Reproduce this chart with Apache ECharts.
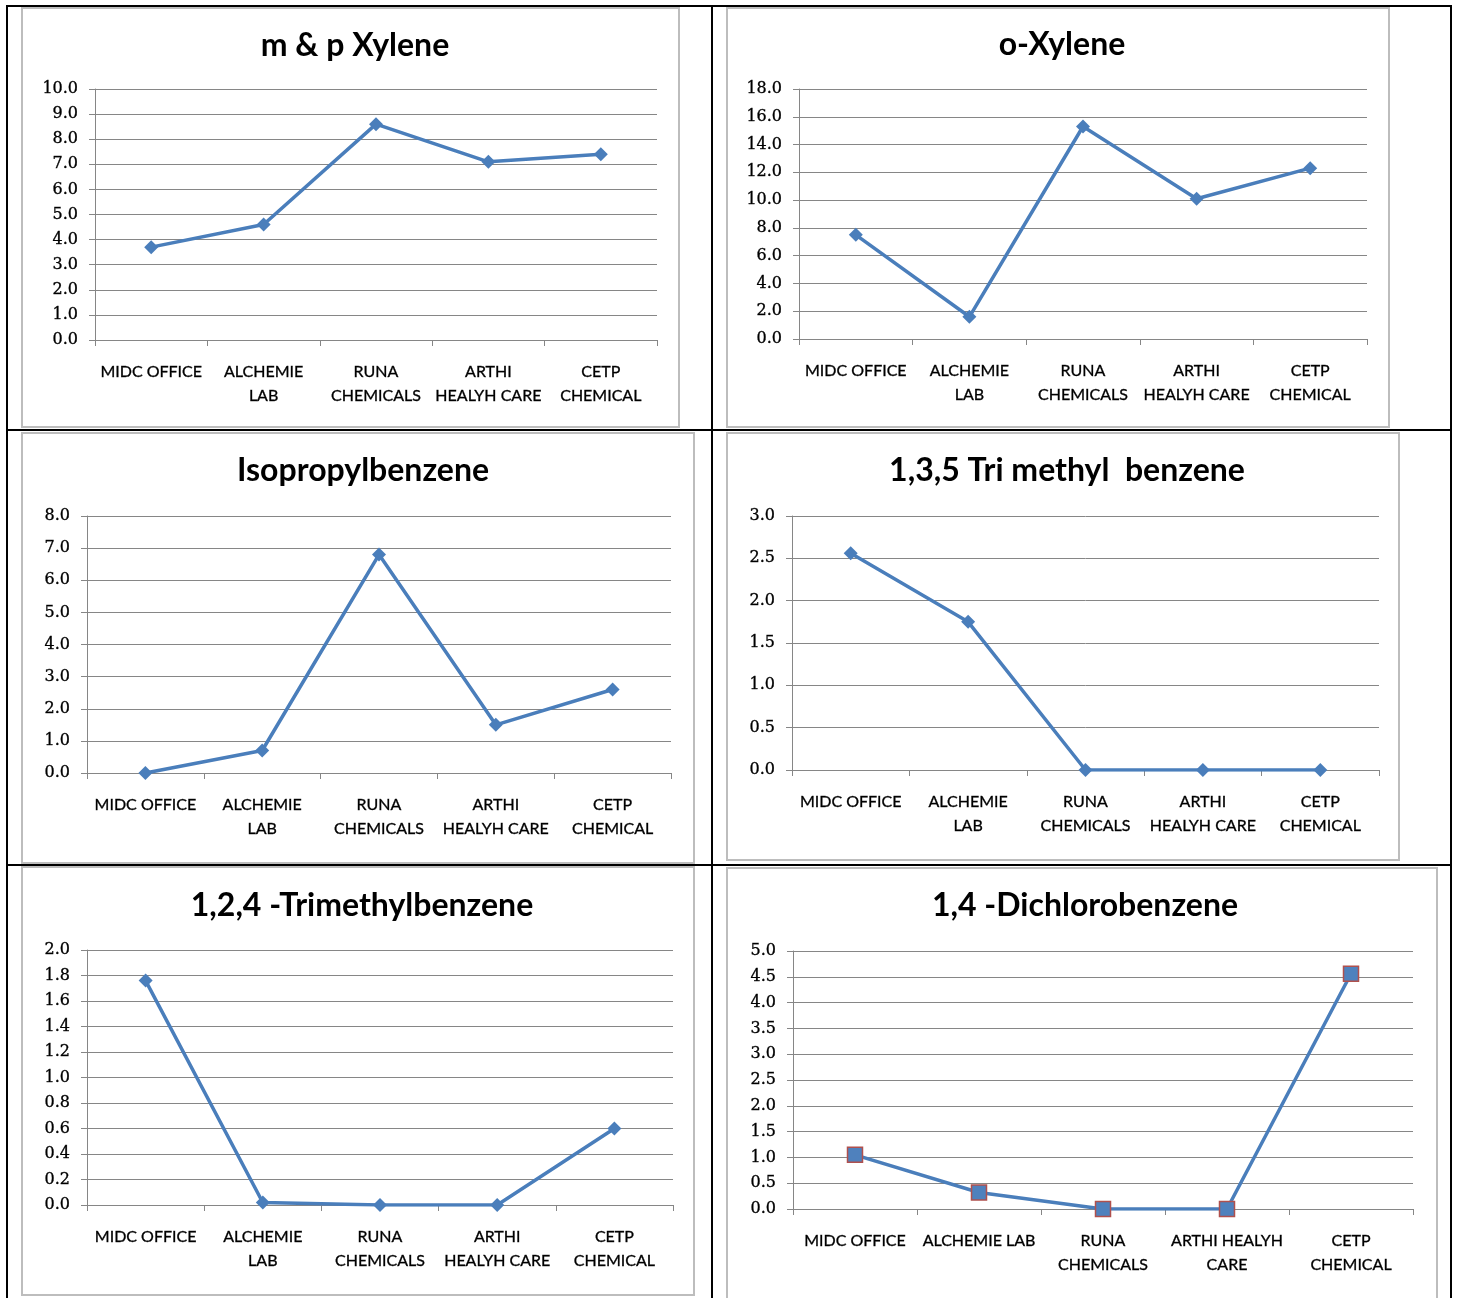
<!DOCTYPE html>
<html>
<head>
<meta charset="utf-8">
<script src="https://cdn.jsdelivr.net/npm/echarts@6/dist/echarts.min.js"></script>
<style>
  html, body { margin: 0; padding: 0; background: #ffffff; }
  #chart { width: 1459px; height: 1298px; }
</style>
</head>
<body>
<div id="chart"></div>
<script>
// Monitoring sites (two label wrappings are used across the panels)
const sites = ['MIDC OFFICE', 'ALCHEMIE\nLAB', 'RUNA\nCHEMICALS', 'ARTHI\nHEALYH CARE', 'CETP\nCHEMICAL'];
const sitesDichloro = ['MIDC OFFICE', 'ALCHEMIE LAB', 'RUNA\nCHEMICALS', 'ARTHI HEALYH\nCARE', 'CETP\nCHEMICAL'];

// Measured concentrations per compound
const mpXylene = [3.7, 4.6, 8.6, 7.1, 7.4];
const oXylene = [7.5, 1.6, 15.3, 10.1, 12.3];
const isopropylbenzene = [0.0, 0.7, 6.8, 1.5, 2.6];
const trimethyl135 = [2.56, 1.75, 0.0, 0.0, 0.0];
const trimethyl124 = [1.76, 0.02, 0.0, 0.0, 0.6];
const dichlorobenzene = [1.05, 0.32, 0.0, 0.0, 4.56];

// Panel titles and value-axis ranges
const panelTitles = ['m & p Xylene', 'o-Xylene', 'Isopropylbenzene', '1,3,5 Tri methyl  benzene', '1,2,4 -Trimethylbenzene', '1,4 -Dichlorobenzene'];
const axisMax = [10, 18, 8, 3, 2, 5];
const axisStep = [1, 2, 1, 0.5, 0.2, 0.5];

const panelData = [mpXylene, oXylene, isopropylbenzene, trimethyl135, trimethyl124, dichlorobenzene];
const panelCats = [sites, sites, sites, sites, sites, sitesDichloro];

// Layout of each panel: plot grid, title centre, and frame box
const layout = [
  { grid: [95, 89, 562, 251],  title: [350, 41],   box: [22, 8, 657, 419] },
  { grid: [799, 89, 568, 250], title: [1057, 40],  box: [727, 8, 662, 419] },
  { grid: [87, 516, 584, 257], title: [358, 466],  box: [22, 433, 672, 430] },
  { grid: [792, 516, 587, 254], title: [1062, 466], box: [727, 433, 672, 427] },
  { grid: [87, 950, 586, 255], title: [357, 901],  box: [22, 867, 672, 428] },
  { grid: [793, 951, 620, 258], title: [1080, 901], box: [727, 868, 710, 440] }
];

const LINE = '#4a7ebb';
const AXIS = '#868686';

const option = {
  animation: false,
  backgroundColor: '#ffffff',
  title: [], grid: [], xAxis: [], yAxis: [], series: [],
  graphic: []
};

layout.forEach((p, i) => {
  option.title.push({
    text: panelTitles[i],
    left: p.title[0], top: p.title[1],
    textAlign: 'center', textVerticalAlign: 'middle',
    textStyle: { fontFamily: 'Lato', fontWeight: 'bold', fontSize: 32, color: '#000000' }
  });
  option.grid.push({ left: p.grid[0], top: p.grid[1], width: p.grid[2], height: p.grid[3], containLabel: false });
  option.xAxis.push({
    type: 'category', gridIndex: i, data: panelCats[i], boundaryGap: true,
    axisLine: { show: true, lineStyle: { color: AXIS, width: 1 } },
    axisTick: { show: true, interval: 0, length: 6, lineStyle: { color: AXIS } },
    axisLabel: { interval: 0, fontFamily: 'Lato', fontSize: 16, color: '#000000', margin: 20, lineHeight: 24,
                 textBorderColor: '#222222', textBorderWidth: 0.35 },
    splitLine: { show: false }
  });
  option.yAxis.push({
    type: 'value', gridIndex: i, min: 0, max: axisMax[i], interval: axisStep[i],
    axisLine: { show: true, lineStyle: { color: AXIS, width: 1 } },
    axisTick: { show: true, length: 6, lineStyle: { color: AXIS } },
    axisLabel: { fontFamily: 'DejaVu Serif', fontSize: 16, color: '#000000', margin: 17,
                 textBorderColor: '#222222', textBorderWidth: 0.35,
                 formatter: v => v.toFixed(1) },
    splitLine: { show: true, lineStyle: { color: AXIS, width: 1 } }
  });
  const squares = i === 5;
  option.series.push({
    type: 'line', xAxisIndex: i, yAxisIndex: i, data: panelData[i],
    symbol: squares ? 'rect' : 'diamond',
    symbolSize: squares ? 15 : 14,
    showAllSymbol: true,
    lineStyle: { color: LINE, width: 3.5 },
    itemStyle: squares
      ? { color: '#4f81bd', borderColor: '#b0504d', borderWidth: 1.5 }
      : { color: LINE, borderWidth: 0 },
    z: 3
  });
  // chart frame
  option.graphic.push({
    type: 'rect', silent: true, z: -1,
    shape: { x: p.box[0], y: p.box[1], width: p.box[2], height: p.box[3] },
    style: { fill: 'none', stroke: '#bdbdbd', lineWidth: 2 }
  });
});

// Table rules around the panels
const rules = [
  [7, 5, 7, 1298], [712, 5, 712, 1298], [1451, 5, 1451, 1298],
  [6, 6, 1452, 6], [6, 430, 1452, 430], [6, 865, 1452, 865]
];
rules.forEach(r => option.graphic.push({
  type: 'line', silent: true, z: 10,
  shape: { x1: r[0], y1: r[1], x2: r[2], y2: r[3] },
  style: { stroke: '#000000', lineWidth: 2 }
}));

const chart = echarts.init(document.getElementById('chart'), null, { renderer: 'canvas' });
chart.setOption(option);
</script>
</body>
</html>
